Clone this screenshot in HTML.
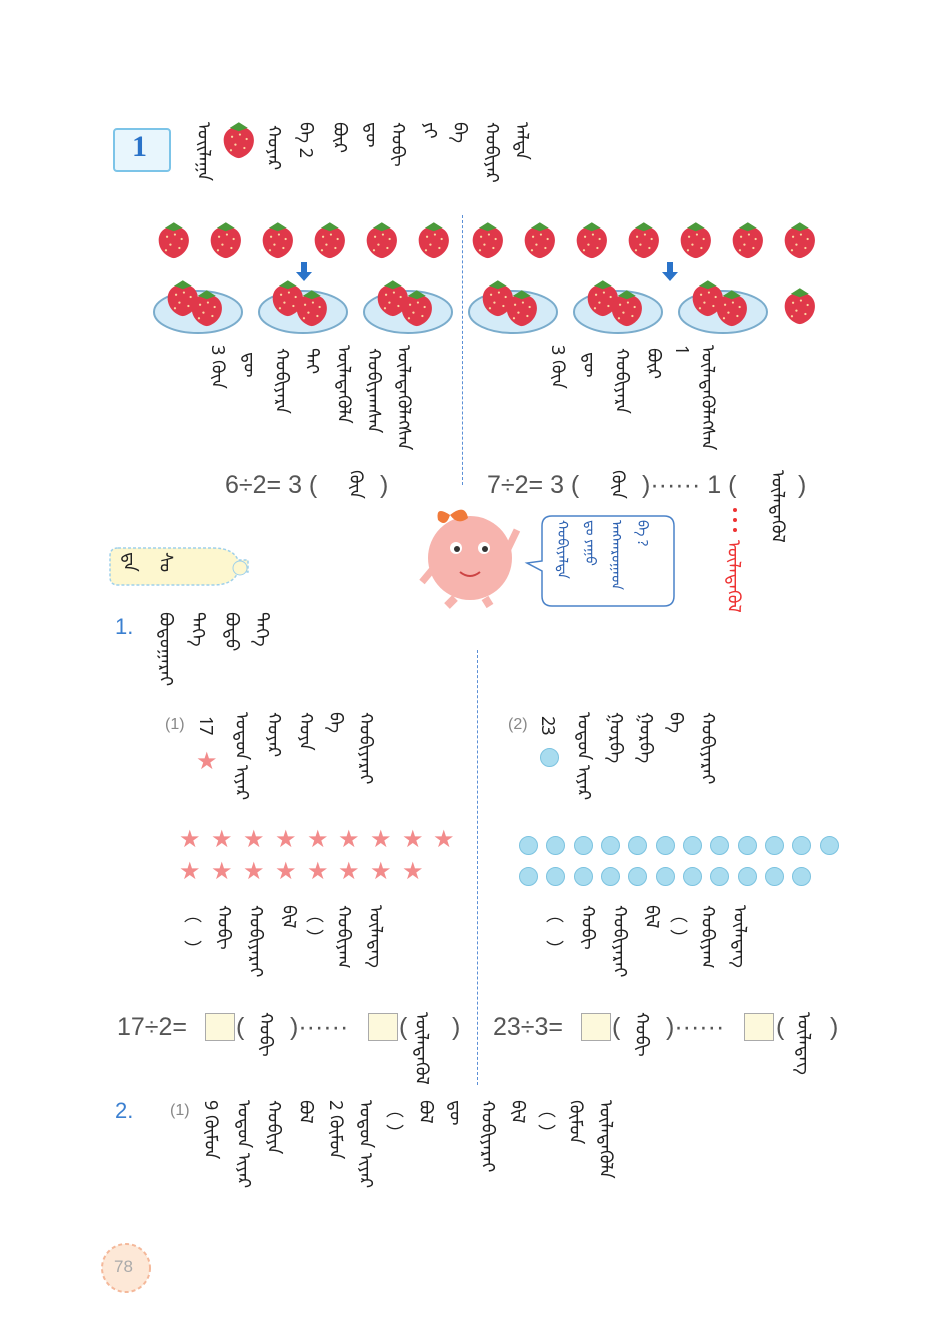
<!DOCTYPE html>
<html><head><meta charset="utf-8">
<style>
*{margin:0;padding:0;box-sizing:border-box}
body{width:940px;height:1337px;background:#fff;position:relative;overflow:hidden;font-family:"Liberation Sans",sans-serif;color:#444}
.a{position:absolute}
.mn{position:absolute;writing-mode:vertical-lr;font-family:"Noto Sans Mongolian","DejaVu Sans",sans-serif;font-size:18px;color:#222;line-height:1;letter-spacing:-1px}
.star{position:absolute;color:#f28b8b;font-size:24px;line-height:1}
.dot{position:absolute;width:19px;height:19px;border-radius:50%;background:#a9dcef;border:1px solid #7cc3e0}
.eq{position:absolute;font-size:25px;color:#555;white-space:nowrap;line-height:30px}
.box{position:absolute;width:30px;height:28px;background:#fdf9dc;border:1px solid #aaa}
.dash{position:absolute;border-left:1.5px dashed #5b8fd6}
</style></head><body>

<div class="a" style="left:113px;top:128px;width:58px;height:44px;border:2px solid #7cc4e8;border-radius:4px;background:#e8f6fd"></div>
<div class="a" style="left:132px;top:130px;font-size:30px;font-weight:bold;color:#2a73c9;font-family:'Liberation Serif',serif">1</div>

<svg class="a" style="left:0;top:0" width="940" height="1337">
<defs>
<g id="sb" transform="scale(1.12)"><path d="M15 6 C4 6 0 14 2 22 C4 30 12 34 15 34 C18 34 26 30 28 22 C30 14 26 6 15 6Z" fill="#e0384a"/><path d="M7 7 L15 2 L23 7 L15 10Z" fill="#4a9a3a"/><g fill="#fbd4a0"><circle cx="9" cy="15" r="1"/><circle cx="16" cy="13" r="1"/><circle cx="22" cy="17" r="1"/><circle cx="12" cy="22" r="1"/><circle cx="20" cy="25" r="1"/><circle cx="8" cy="27" r="1"/></g></g>
</defs>
<use href="#sb" x="222" y="120"/>
<g>
<use href="#sb" x="157" y="220"/><use href="#sb" x="209" y="220"/><use href="#sb" x="261" y="220"/><use href="#sb" x="313" y="220"/><use href="#sb" x="365" y="220"/><use href="#sb" x="417" y="220"/>
<use href="#sb" x="471" y="220"/><use href="#sb" x="523" y="220"/><use href="#sb" x="575" y="220"/><use href="#sb" x="627" y="220"/><use href="#sb" x="679" y="220"/><use href="#sb" x="731" y="220"/><use href="#sb" x="783" y="220"/>
</g>
<g fill="#d4ebf8" stroke="#7aaccc" stroke-width="2">
<ellipse cx="198" cy="312" rx="44" ry="21"/><ellipse cx="303" cy="312" rx="44" ry="21"/><ellipse cx="408" cy="312" rx="44" ry="21"/>
<ellipse cx="513" cy="312" rx="44" ry="21"/><ellipse cx="618" cy="312" rx="44" ry="21"/><ellipse cx="723" cy="312" rx="44" ry="21"/>
</g>
<g>
<use href="#sb" x="166" y="278"/><use href="#sb" x="190" y="288"/>
<use href="#sb" x="271" y="278"/><use href="#sb" x="295" y="288"/>
<use href="#sb" x="376" y="278"/><use href="#sb" x="400" y="288"/>
<use href="#sb" x="481" y="278"/><use href="#sb" x="505" y="288"/>
<use href="#sb" x="586" y="278"/><use href="#sb" x="610" y="288"/>
<use href="#sb" x="691" y="278"/><use href="#sb" x="715" y="288"/>
<use href="#sb" x="783" y="286"/>
</g>
<path d="M301 262 h6 v10 h5 l-8 9 l-8 -9 h5z" fill="#2a73c9"/>
<path d="M667 262 h6 v10 h5 l-8 9 l-8 -9 h5z" fill="#2a73c9"/>
<circle cx="470" cy="558" r="42" fill="#f7b4ae"/>
<circle cx="456" cy="548" r="6" fill="#fff"/><circle cx="484" cy="548" r="6" fill="#fff"/>
<circle cx="457" cy="549" r="3" fill="#333"/><circle cx="485" cy="549" r="3" fill="#333"/>
<path d="M460 572 q10 8 20 0" stroke="#c44" fill="none" stroke-width="2"/>
<path d="M450 515 q-15 -10 -12 5 q8 8 12 -5 q15 -12 18 3 q-10 8 -18 -3" fill="#f07a3a"/>
<path d="M505 555 l12 -25" stroke="#f7b4ae" stroke-width="7"/>
<path d="M432 570 l-10 12" stroke="#f7b4ae" stroke-width="7"/>
<path d="M455 598 l-8 8 M485 598 l5 8" stroke="#f7b4ae" stroke-width="8"/>
<path d="M552 516 h112 q10 0 10 10 v70 q0 10 -10 10 h-112 q-10 0 -10 -10 v-25 l-15 -8 l15 -2 v-35 q0 -10 10 -10z" fill="#fff" stroke="#4a82c8" stroke-width="1.5"/>
<g fill="#e33"><circle cx="735" cy="510" r="2"/><circle cx="735" cy="520" r="2"/><circle cx="735" cy="530" r="2"/></g>
<path d="M118 548 h95 q20 0 25 12 h10 v12 h-10 q-5 13 -25 13 h-95 q-8 0 -8 -8 v-21 q0 -8 8 -8z" fill="#fdf7cf" stroke="#9fd0ea" stroke-width="1.5" stroke-dasharray="3 2"/>
<circle cx="240" cy="568" r="7" fill="#fdf7cf" stroke="#9fd0ea"/>
<circle cx="126" cy="1268" r="24" fill="#fde8d7" stroke="#f4b89a" stroke-dasharray="4 3" stroke-width="2"/>
</svg>

<div class="dash" style="left:462px;top:215px;height:270px"></div>
<div class="dash" style="left:477px;top:650px;height:435px"></div>

<div class="mn" style="left:198px;top:122px">ᠣᠢᠯᠠᠭᠠ</div>
<div class="mn" style="left:268px;top:125px">ᠬᠣᠶᠠᠷ</div>
<div class="mn" style="left:300px;top:122px">ᠪᠠ 2</div>
<div class="mn" style="left:334px;top:122px">ᠪᠦᠷ</div>
<div class="mn" style="left:366px;top:122px">ᠳᠦ</div>
<div class="mn" style="left:392px;top:122px">ᠬᠤᠪᠢ</div>
<div class="mn" style="left:424px;top:122px">ᠶᠢ</div>
<div class="mn" style="left:454px;top:122px">ᠪᠡ</div>
<div class="mn" style="left:486px;top:122px">ᠬᠤᠪᠢᠶᠠᠷ</div>
<div class="mn" style="left:516px;top:122px">ᠠᠯᠳᠠ</div>

<div class="mn" style="left:212px;top:345px">3 ᠬᠦᠨ</div>
<div class="mn" style="left:244px;top:352px">ᠳᠦ</div>
<div class="mn" style="left:276px;top:348px">ᠬᠤᠪᠢᠶᠠᠷᠠ</div>
<div class="mn" style="left:306px;top:348px">ᠲᠠᠢ</div>
<div class="mn" style="left:338px;top:345px">ᠦᠯᠡᠳᠡᠭᠦᠯᠡ</div>
<div class="mn" style="left:368px;top:348px">ᠬᠤᠪᠢᠶᠠᠭᠰᠠᠨ</div>
<div class="mn" style="left:398px;top:345px">ᠦᠯᠡᠳᠡᠭᠦᠯᠡᠭᠰᠡᠨ</div>
<div class="mn" style="left:552px;top:345px">3 ᠬᠦᠨ</div>
<div class="mn" style="left:584px;top:352px">ᠳᠦ</div>
<div class="mn" style="left:616px;top:348px">ᠬᠤᠪᠢᠶᠠᠷᠠ</div>
<div class="mn" style="left:648px;top:348px">ᠪᠦᠷ</div>
<div class="mn" style="left:676px;top:345px">1</div>
<div class="mn" style="left:702px;top:345px">ᠦᠯᠡᠳᠡᠭᠦᠯᠡᠭᠰᠡᠨ</div>

<div class="eq" style="left:225px;top:470px">6÷2= 3 (</div>
<div class="mn" style="left:350px;top:470px">ᠬᠦᠨ</div>
<div class="eq" style="left:380px;top:470px">)</div>
<div class="eq" style="left:487px;top:470px">7÷2= 3 (</div>
<div class="mn" style="left:612px;top:470px">ᠬᠦᠨ</div>
<div class="eq" style="left:642px;top:470px">)······ 1 (</div>
<div class="mn" style="left:772px;top:470px">ᠦᠯᠡᠳᠡᠭᠦᠯ</div>
<div class="eq" style="left:798px;top:470px">)</div>

<div class="mn" style="left:558px;top:520px;color:#2a5fb0;font-size:14px">ᠬᠤᠪᠢᠶᠠᠯᠳᠠ</div>
<div class="mn" style="left:586px;top:520px;color:#2a5fb0;font-size:14px">ᠳᠤ ᠶᠠᠭᠤ</div>
<div class="mn" style="left:612px;top:520px;color:#2a5fb0;font-size:14px">ᠠᠩᠬᠠᠷᠤᠭᠠᠳ</div>
<div class="mn" style="left:638px;top:520px;color:#2a5fb0;font-size:14px">ᠪᠡ ?</div>
<div class="mn" style="left:728px;top:540px;color:#e33">ᠦᠯᠡᠳᠡᠭᠦᠯ</div>

<div class="mn" style="left:124px;top:552px;color:#222">ᠳᠠ</div>
<div class="mn" style="left:160px;top:552px;color:#222">ᠰᠤ</div>

<div class="a" style="left:115px;top:614px;font-size:22px;color:#3a7fd0">1.</div>
<div class="mn" style="left:160px;top:612px">ᠪᠣᠳᠣᠭᠠᠷᠠᠢ</div>
<div class="mn" style="left:192px;top:612px">ᠳᠡᠭᠡ</div>
<div class="mn" style="left:226px;top:612px">ᠪᠣᠳᠣ</div>
<div class="mn" style="left:256px;top:612px">ᠳᠡᠭᠡ</div>

<div class="a" style="left:165px;top:716px;font-size:16px;color:#888">(1)</div>
<div class="mn" style="left:200px;top:716px">17</div>
<div class="star" style="left:196px;top:750px">★</div>
<div class="mn" style="left:236px;top:712px">ᠣᠳᠣᠨ ᠢᠶᠠᠷ</div>
<div class="mn" style="left:268px;top:712px">ᠬᠣᠶᠠᠷ</div>
<div class="mn" style="left:300px;top:712px">ᠬᠣᠶᠠ</div>
<div class="mn" style="left:330px;top:712px">ᠪᠠ</div>
<div class="mn" style="left:360px;top:712px">ᠬᠤᠪᠢᠶᠠᠷᠠᠢ</div>

<div class="a" style="left:508px;top:716px;font-size:16px;color:#888">(2)</div>
<div class="mn" style="left:542px;top:716px">23</div>
<div class="dot" style="left:540px;top:748px"></div>
<div class="mn" style="left:578px;top:712px">ᠣᠳᠣᠨ ᠢᠶᠠᠷ</div>
<div class="mn" style="left:610px;top:712px">ᠭᠤᠷᠪᠠ</div>
<div class="mn" style="left:640px;top:712px">ᠭᠤᠷᠪᠠ</div>
<div class="mn" style="left:670px;top:712px">ᠪᠠ</div>
<div class="mn" style="left:702px;top:712px">ᠬᠤᠪᠢᠶᠠᠷᠠᠢ</div>

<div class="star" style="left:179px;top:828px">★</div><div class="star" style="left:211px;top:828px">★</div><div class="star" style="left:243px;top:828px">★</div><div class="star" style="left:275px;top:828px">★</div><div class="star" style="left:307px;top:828px">★</div><div class="star" style="left:338px;top:828px">★</div><div class="star" style="left:370px;top:828px">★</div><div class="star" style="left:402px;top:828px">★</div><div class="star" style="left:433px;top:828px">★</div>
<div class="star" style="left:179px;top:860px">★</div><div class="star" style="left:211px;top:860px">★</div><div class="star" style="left:243px;top:860px">★</div><div class="star" style="left:275px;top:860px">★</div><div class="star" style="left:307px;top:860px">★</div><div class="star" style="left:338px;top:860px">★</div><div class="star" style="left:370px;top:860px">★</div><div class="star" style="left:402px;top:860px">★</div>

<div class="dot" style="left:519px;top:836px"></div><div class="dot" style="left:546px;top:836px"></div><div class="dot" style="left:574px;top:836px"></div><div class="dot" style="left:601px;top:836px"></div><div class="dot" style="left:628px;top:836px"></div><div class="dot" style="left:656px;top:836px"></div><div class="dot" style="left:683px;top:836px"></div><div class="dot" style="left:710px;top:836px"></div><div class="dot" style="left:738px;top:836px"></div><div class="dot" style="left:765px;top:836px"></div><div class="dot" style="left:792px;top:836px"></div><div class="dot" style="left:820px;top:836px"></div>
<div class="dot" style="left:519px;top:867px"></div><div class="dot" style="left:546px;top:867px"></div><div class="dot" style="left:574px;top:867px"></div><div class="dot" style="left:601px;top:867px"></div><div class="dot" style="left:628px;top:867px"></div><div class="dot" style="left:656px;top:867px"></div><div class="dot" style="left:683px;top:867px"></div><div class="dot" style="left:710px;top:867px"></div><div class="dot" style="left:738px;top:867px"></div><div class="dot" style="left:765px;top:867px"></div><div class="dot" style="left:792px;top:867px"></div>

<div class="mn" style="left:186px;top:905px">︵&nbsp;&nbsp;&nbsp;&nbsp;&nbsp;︶</div>
<div class="mn" style="left:218px;top:905px">ᠬᠤᠪᠢ</div>
<div class="mn" style="left:250px;top:905px">ᠬᠤᠪᠢᠶᠠᠷᠠᠢ</div>
<div class="mn" style="left:283px;top:905px">ᠪᠢᠯ</div>
<div class="mn" style="left:308px;top:905px">︵&nbsp;&nbsp;︶</div>
<div class="mn" style="left:338px;top:905px">ᠬᠤᠪᠢᠶᠠᠭ</div>
<div class="mn" style="left:370px;top:905px">ᠦᠯᠡᠳᠡᠭ</div>
<div class="mn" style="left:548px;top:905px">︵&nbsp;&nbsp;&nbsp;&nbsp;&nbsp;︶</div>
<div class="mn" style="left:582px;top:905px">ᠬᠤᠪᠢ</div>
<div class="mn" style="left:614px;top:905px">ᠬᠤᠪᠢᠶᠠᠷᠠᠢ</div>
<div class="mn" style="left:646px;top:905px">ᠪᠢᠯ</div>
<div class="mn" style="left:672px;top:905px">︵&nbsp;&nbsp;︶</div>
<div class="mn" style="left:702px;top:905px">ᠬᠤᠪᠢᠶᠠᠭ</div>
<div class="mn" style="left:734px;top:905px">ᠦᠯᠡᠳᠡᠭ</div>

<div class="eq" style="left:117px;top:1012px">17÷2=</div>
<div class="box" style="left:205px;top:1013px"></div>
<div class="eq" style="left:236px;top:1012px">(</div>
<div class="mn" style="left:260px;top:1012px">ᠬᠤᠪᠢ</div>
<div class="eq" style="left:290px;top:1012px">)······</div>
<div class="box" style="left:368px;top:1013px"></div>
<div class="eq" style="left:399px;top:1012px">(</div>
<div class="mn" style="left:416px;top:1012px">ᠦᠯᠡᠳᠡᠭᠦᠯ</div>
<div class="eq" style="left:452px;top:1012px">)</div>

<div class="eq" style="left:493px;top:1012px">23÷3=</div>
<div class="box" style="left:581px;top:1013px"></div>
<div class="eq" style="left:612px;top:1012px">(</div>
<div class="mn" style="left:636px;top:1012px">ᠬᠤᠪᠢ</div>
<div class="eq" style="left:666px;top:1012px">)······</div>
<div class="box" style="left:744px;top:1013px"></div>
<div class="eq" style="left:776px;top:1012px">(</div>
<div class="mn" style="left:798px;top:1012px">ᠦᠯᠡᠳᠡᠭ</div>
<div class="eq" style="left:830px;top:1012px">)</div>

<div class="a" style="left:115px;top:1098px;font-size:22px;color:#3a7fd0">2.</div>
<div class="a" style="left:170px;top:1102px;font-size:16px;color:#888">(1)</div>
<div class="mn" style="left:205px;top:1100px">9 ᠬᠦᠮᠦᠨ</div>
<div class="mn" style="left:238px;top:1100px">ᠣᠳᠣᠨ ᠢᠶᠠᠷ</div>
<div class="mn" style="left:268px;top:1100px">ᠬᠤᠪᠢᠶᠠ</div>
<div class="mn" style="left:300px;top:1100px">ᠪᠣᠯ</div>
<div class="mn" style="left:330px;top:1100px">2 ᠬᠦᠮᠦᠨ</div>
<div class="mn" style="left:360px;top:1100px">ᠣᠳᠣᠨ ᠢᠶᠠᠷ</div>
<div class="mn" style="left:388px;top:1100px">︵&nbsp;&nbsp;︶</div>
<div class="mn" style="left:420px;top:1100px">ᠪᠣᠯ</div>
<div class="mn" style="left:450px;top:1100px">ᠳᠦ</div>
<div class="mn" style="left:482px;top:1100px">ᠬᠤᠪᠢᠶᠠᠷᠠᠢ</div>
<div class="mn" style="left:512px;top:1100px">ᠪᠢᠯ</div>
<div class="mn" style="left:540px;top:1100px">︵&nbsp;&nbsp;︶</div>
<div class="mn" style="left:570px;top:1100px">ᠬᠦᠮᠦᠨ</div>
<div class="mn" style="left:600px;top:1100px">ᠦᠯᠡᠳᠡᠭᠦᠯᠡ</div>

<div class="a" style="left:114px;top:1257px;font-size:17px;color:#aaa">78</div>
</body></html>
